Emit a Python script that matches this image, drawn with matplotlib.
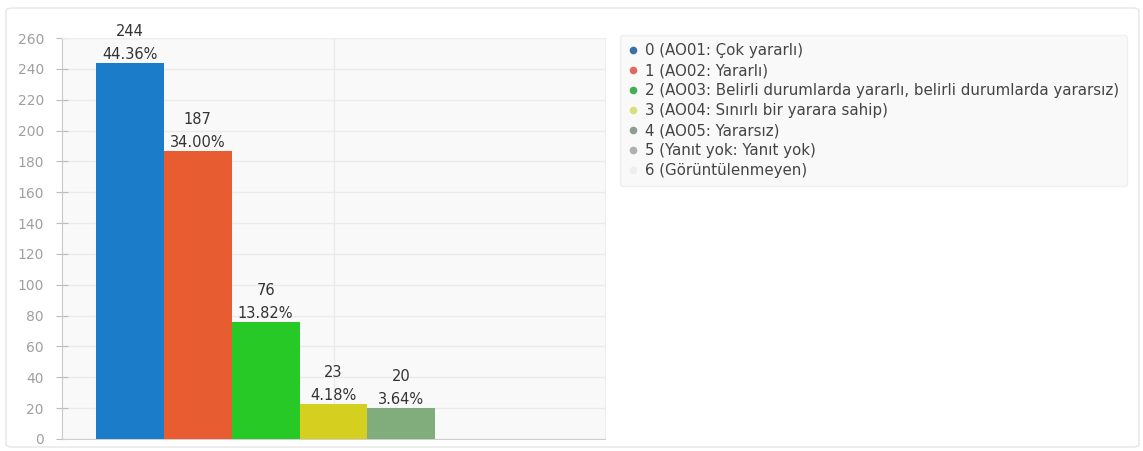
import matplotlib
matplotlib.use('Agg')
import matplotlib.pyplot as plt
from matplotlib.lines import Line2D
from matplotlib.patches import FancyBboxPatch

# data
categories = [
    '0 (AO01: Çok yararlı)',
    '1 (AO02: Yararlı)',
    '2 (AO03: Belirli durumlarda yararlı, belirli durumlarda yararsız)',
    '3 (AO04: Sınırlı bir yarara sahip)',
    '4 (AO05: Yararsız)',
    '5 (Yanıt yok: Yanıt yok)',
    '6 (Görüntülenmeyen)',
]
counts = [244, 187, 76, 23, 20, 0, 0]
percents = ['44.36%', '34.00%', '13.82%', '4.18%', '3.64%', '', '']
bar_colors = ['#1b7cc9', '#e85c31', '#27c927', '#d5cf1f', '#80ad7b', '#f3e6cf', '#dddddd']
dot_colors = ['#3b6fa6', '#e06a62', '#45ad55', '#d9e07a', '#8e9e8e', '#b0b0b0', '#eeeeee']
yticks = list(range(0, 261, 20))

fig = plt.figure(figsize=(11.43, 4.51), dpi=100)
fig.patch.set_facecolor('white')

# outer panel border
fig.patches.append(FancyBboxPatch((6 / 1143, 4 / 451), 1 - 10 / 1143, 1 - 12 / 451,
                                  boxstyle='round,pad=0,rounding_size=0.006',
                                  transform=fig.transFigure, facecolor='none',
                                  edgecolor='#e6e6e6', linewidth=1.0))

ax = fig.add_axes([62 / 1143, 1 - 439 / 451, (605 - 62) / 1143, (439 - 38) / 451])
ax.set_facecolor('#f9f9f9')

x = list(range(len(counts)))
ax.bar(x, counts, width=1.0, color=bar_colors, zorder=3)

for xi, c, p in zip(x, counts, percents):
    if c == 0:
        continue
    ax.text(xi, c + 0.5, p, ha='center', va='bottom', fontsize=10.5, color='#333333', zorder=4)
    ax.text(xi, c + 15.5, str(c), ha='center', va='bottom', fontsize=10.5, color='#333333', zorder=4)

ax.set_xlim(-1, 7)
ax.set_ylim(0, 260)
ax.set_yticks(yticks)
ax.set_xticks([3])
ax.set_xticklabels([])
ax.tick_params(axis='x', length=0)
ax.tick_params(axis='y', direction='inout', length=8, colors='#bbbbbb',
               labelcolor='#a0a0a0', labelsize=10, pad=9)
ax.grid(True, color='#ebebeb', linewidth=1.0, zorder=0)

for side in ['top', 'right']:
    ax.spines[side].set_color('#eeeeee')
ax.spines['left'].set_color('#c8c8c8')
ax.spines['bottom'].set_color('#cfcfcf')

handles = [Line2D([0], [0], marker='o', linestyle='none', markersize=4.5,
                  markerfacecolor=dc, markeredgecolor=dc) for dc in dot_colors]
leg = fig.legend(handles, categories, loc='upper left',
                 bbox_to_anchor=(620 / 1143, 1 - 35 / 451), borderaxespad=0,
                 frameon=True, fontsize=10.8, labelspacing=0.33, handlelength=0.6,
                 handletextpad=0.5, borderpad=0.55, fancybox=True)
leg.get_frame().set_facecolor('#f8f8f8')
leg.get_frame().set_edgecolor('#ececec')
for t in leg.get_texts():
    t.set_color('#444444')

fig.savefig('out.png', dpi=100)
